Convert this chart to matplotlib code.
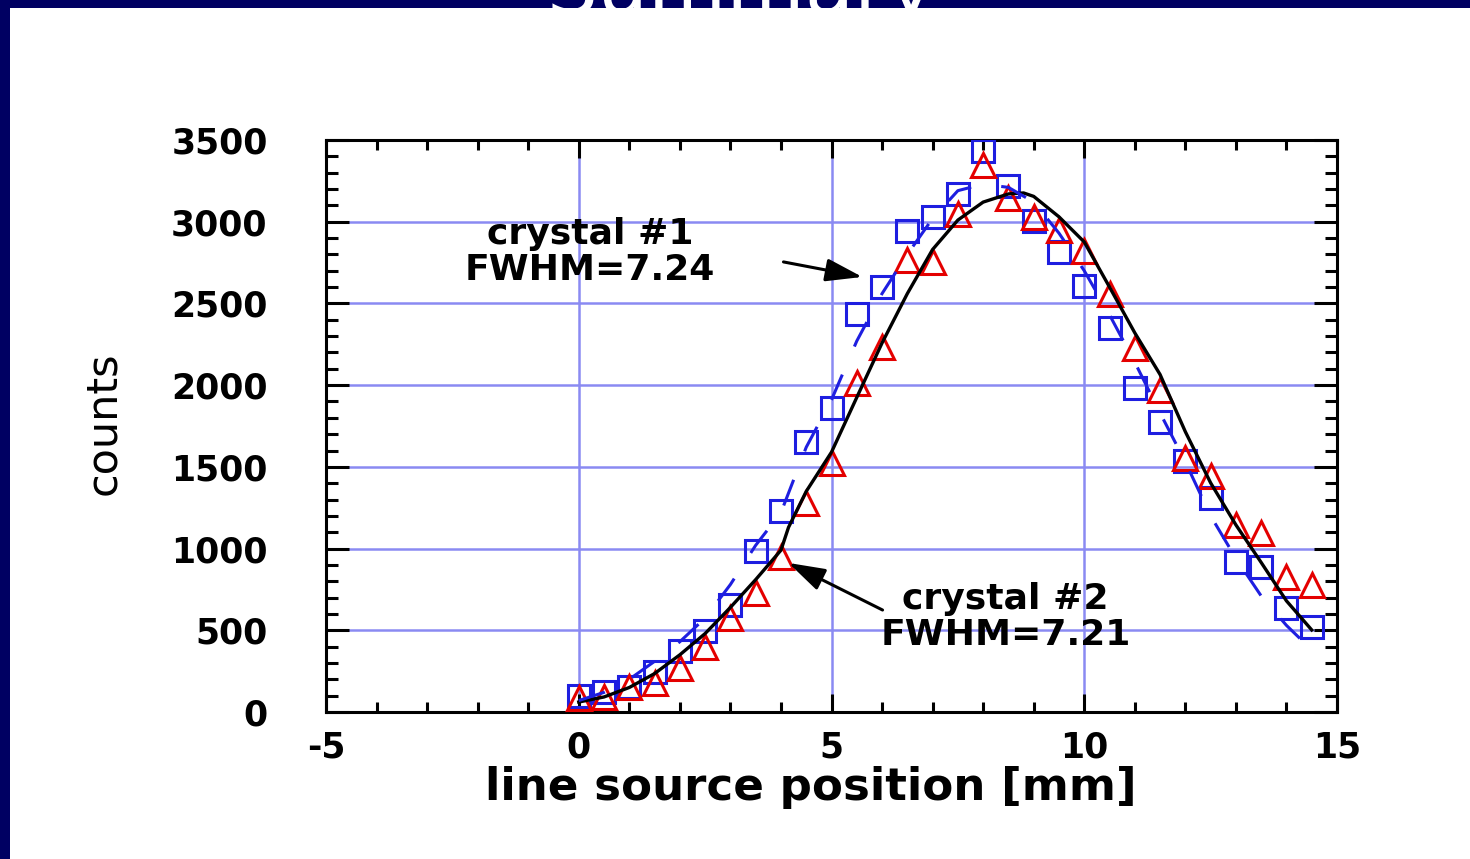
import matplotlib
matplotlib.use('Agg')
import matplotlib.pyplot as plt
from matplotlib.font_manager import findfont, FontProperties
from matplotlib.patches import Rectangle
from matplotlib.ticker import MultipleLocator

plt.rcParams['axes.unicode_minus'] = False

# measured points, both crystals share the same source positions [mm]
pos = [0, 0.5, 1, 1.5, 2, 2.5, 3, 3.5, 4, 4.5, 5, 5.5, 6, 6.5, 7,
       7.5, 8, 8.5, 9, 9.5, 10, 10.5, 11, 11.5, 12, 12.5, 13, 13.5, 14, 14.5]

crystal1 = [95, 125, 152, 245, 376, 495, 652, 988, 1227, 1655, 1860, 2436, 2601, 2944, 3029,
            3167, 3433, 3216, 3002, 2815, 2607, 2347, 1980, 1772, 1533, 1310, 915, 890, 636, 523]

crystal2 = [84, 90, 153, 180, 270, 398, 575, 728, 950, 1279, 1524, 2013, 2234, 2766, 2754,
            3048, 3350, 3146, 3026, 2950, 2820, 2558, 2228, 1971, 1554, 1444, 1147, 1095, 829, 777]

# fit curves as drawn
fit1_x = pos
fit1_y = [70, 120, 200, 310, 430, 575, 780, 1020, 1220, 1620, 1910, 2270, 2560, 2800, 3020,
          3190, 3230, 3210, 3120, 2930, 2700, 2430, 2140, 1830, 1530, 1200, 940, 710, 530, 380]

fit2_x = [0, 0.5, 1, 1.5, 2, 2.5, 3, 3.5, 4, 4.15, 4.5, 5, 5.5, 6, 6.5, 7, 7.5, 8,
          8.5, 8.8, 9, 9.5, 10, 10.5, 11, 11.5, 12, 12.5, 13, 13.5, 14, 14.5]
fit2_y = [61, 92, 150, 235, 350, 480, 640, 810, 990, 1130, 1350, 1590, 1925, 2258, 2560, 2830, 3010, 3120,
          3170, 3176, 3155, 3030, 2876, 2600, 2320, 2065, 1715, 1402, 1145, 915, 680, 502]

NAVY = '#000062'
BLUE = '#1e1ee0'
RED = '#e40000'
GRID = '#8a8af2'

fig = plt.figure(figsize=(14.7, 8.59), dpi=100)
fig.patch.set_facecolor('white')

# slide frame: navy bar on the left and along the top
fig.patches.append(Rectangle((0, 0), 10 / 1470, 1, transform=fig.transFigure,
                             facecolor=NAVY, edgecolor='none'))
band = Rectangle((0, 1 - 8 / 859), 1, 8 / 859, transform=fig.transFigure,
                 facecolor=NAVY, edgecolor='none')
fig.patches.append(band)
# slide title, mostly above the picture; only its foot shows in the band
title = fig.text(0.504, 1 - 14 / 859, 'Summary', color='white', fontsize=58,
                 ha='center', va='baseline')
title.set_clip_path(band)

ax = fig.add_axes([326 / 1470, 147 / 859, 1011 / 1470, 572 / 859])

ax.plot(pos, crystal1, linestyle='none', marker='s', ms=16, mfc='none',
        mec=BLUE, mew=2.2, zorder=3)
ax.plot(pos, crystal2, linestyle='none', marker='^', ms=17, mfc='none',
        mec=RED, mew=2.2, zorder=3)
ax.plot(fit2_x, fit2_y, color='black', lw=2.4, zorder=4)
ax.plot(fit1_x, fit1_y, color=BLUE, lw=2.2, dashes=(9, 10), zorder=4)

ax.set_xlim(-5, 15)
ax.set_ylim(0, 3500)
ax.xaxis.set_major_locator(MultipleLocator(5))
ax.xaxis.set_minor_locator(MultipleLocator(1))
ax.yaxis.set_major_locator(MultipleLocator(500))
ax.yaxis.set_minor_locator(MultipleLocator(100))

ax.set_axisbelow(True)
ax.grid(True, which='major', color=GRID, lw=1.8)

ax.tick_params(which='both', direction='in', top=True, right=True, width=2.2, color='black')
ax.tick_params(axis='x', which='major', length=13, pad=13)
ax.tick_params(axis='x', which='minor', length=7)
ax.tick_params(axis='y', which='major', length=16.5, pad=42)
ax.tick_params(axis='y', which='minor', length=8.5)
for lab in ax.get_xticklabels() + ax.get_yticklabels():
    lab.set_fontsize(25)
    lab.set_fontweight('bold')
for sp in ax.spines.values():
    sp.set_linewidth(2.2)

ax.set_xlabel('line source position [mm]', fontsize=32.5, fontweight='bold')
ax.xaxis.set_label_coords(0.48, -0.095)

# the y label is set in a narrow face; fall back to plain DejaVu if it is missing
narrow = 'Liberation Sans Narrow'
if 'Narrow' in findfont(FontProperties(family=narrow), fallback_to_default=True):
    ax.set_ylabel('counts', fontsize=42, family=narrow)
else:
    ax.set_ylabel('counts', fontsize=31)
ax.yaxis.set_label_coords(-0.2, 0.505)

ax.text(0.22, 2815, 'crystal #1\nFWHM=7.24', fontsize=26, fontweight='bold',
        ha='center', va='center', linespacing=1.1)
ax.text(8.44, 581, 'crystal #2\nFWHM=7.21', fontsize=26, fontweight='bold',
        ha='center', va='center', linespacing=1.1)

arrow = dict(arrowstyle='-|>,head_length=0.8,head_width=0.25', color='black',
             lw=2.2, mutation_scale=28, shrinkA=0, shrinkB=0)
ax.annotate('', xy=(5.61, 2662), xytext=(4.05, 2754), arrowprops=arrow)
ax.annotate('', xy=(4.15, 912), xytext=(6.01, 624), arrowprops=arrow)

fig.savefig('out.png', dpi=100)
